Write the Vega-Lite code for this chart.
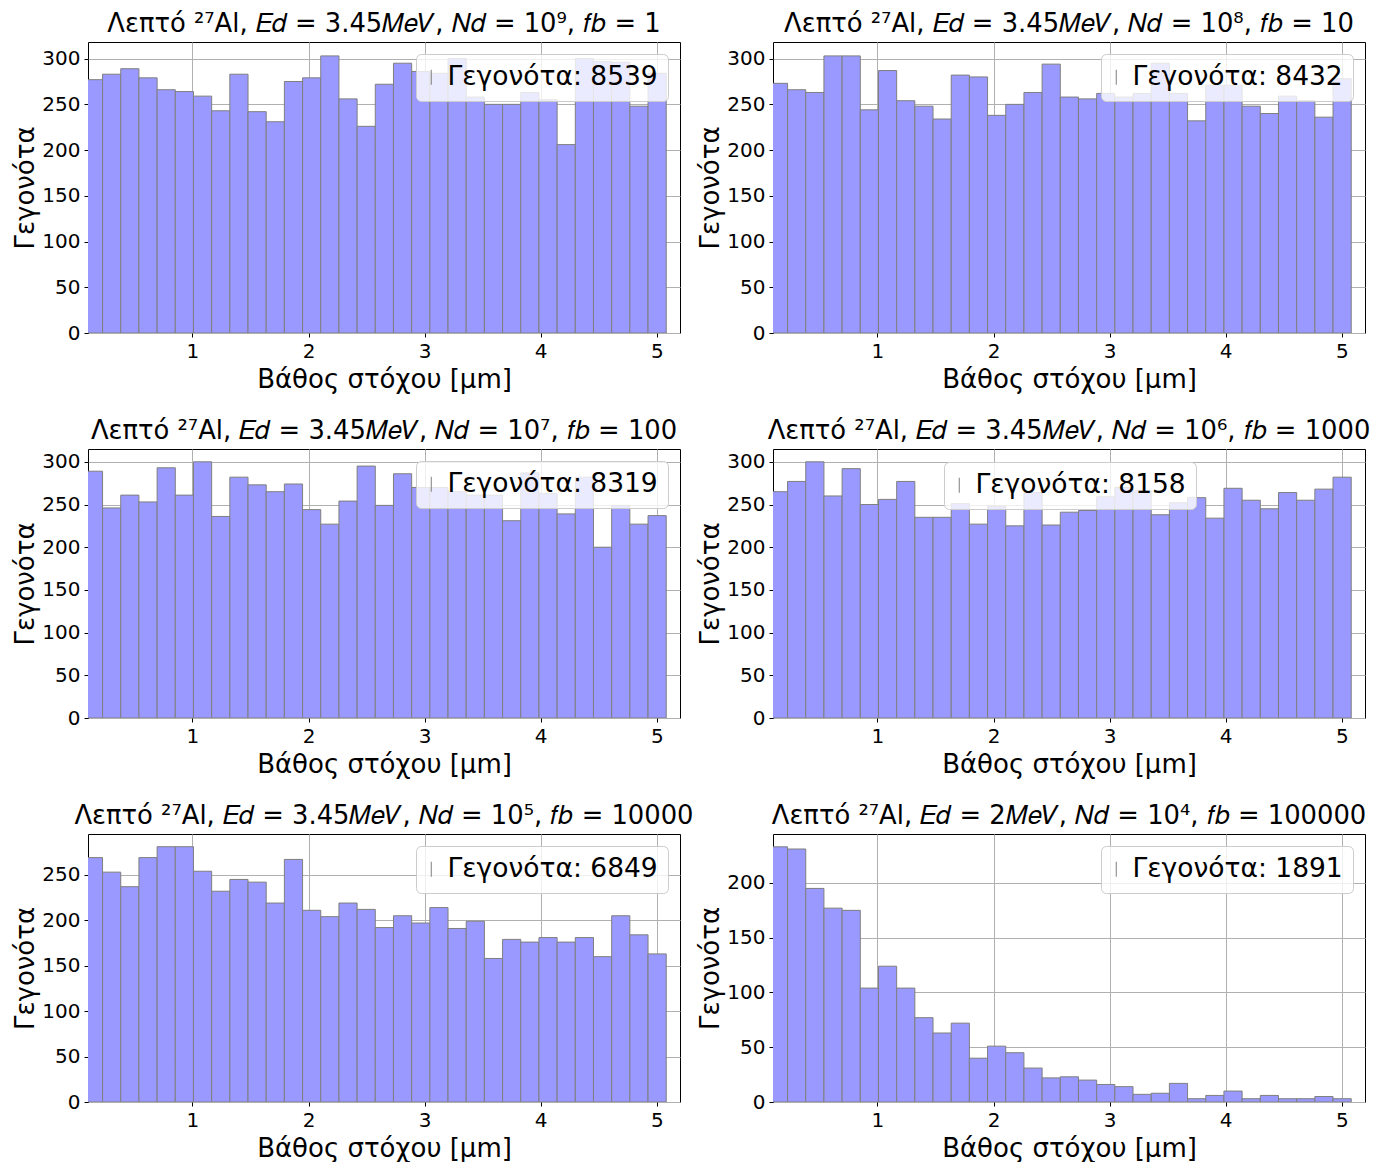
{
  "$schema": "https://vega.github.io/schema/vega-lite/v6.json",
  "padding": {"left": 12, "top": 10, "right": 5, "bottom": 5},
  "background": "white",
  "config": {
    "font": "DejaVu Sans",
    "view": {"stroke": "black", "strokeWidth": 1},
    "axis": {"domain": false, "grid": true, "gridColor": "#b0b0b0", "gridWidth": 1, "tickColor": "black", "tickSize": 4, "tickWidth": 1, "labelFont": "DejaVu Sans", "labelFontSize": 20, "labelColor": "black", "labelPadding": 4, "labelFlush": false, "titleFont": "DejaVu Sans", "titleFontSize": 26, "titleFontWeight": "normal", "titleColor": "black", "zindex": 1},
    "axisX": {"titlePadding": 5},
    "axisY": {"titlePadding": 3},
    "title": {"font": "DejaVu Sans", "fontSize": 25.8, "fontWeight": "normal", "color": "black", "offset": 4, "anchor": "middle"},
    "legend": {"padding": 10, "fillColor": "rgba(255,255,255,0.8)", "strokeColor": "#cccccc", "cornerRadius": 5, "labelFont": "DejaVu Sans", "labelFontSize": 26.5, "labelColor": "black", "labelLimit": 400, "symbolType": "M0,-1L0,1", "symbolSize": 225, "symbolStrokeWidth": 1, "symbolOffset": -8, "labelOffset": 3, "zindex": 2}
  },
  "data": {"values": [
    {"x0": 0.0688, "x1": 0.2254, "p1": 277, "p2": 273, "p3": 289, "p4": 265, "p5": 269, "p6": 233},
    {"x0": 0.2254, "x1": 0.3821, "p1": 283, "p2": 266, "p3": 246, "p4": 277, "p5": 253, "p6": 231},
    {"x0": 0.3821, "x1": 0.5387, "p1": 289, "p2": 263, "p3": 261, "p4": 300, "p5": 237, "p6": 195},
    {"x0": 0.5387, "x1": 0.6954, "p1": 279, "p2": 303, "p3": 253, "p4": 260, "p5": 269, "p6": 177},
    {"x0": 0.6954, "x1": 0.8520, "p1": 266, "p2": 303, "p3": 293, "p4": 292, "p5": 281, "p6": 175},
    {"x0": 0.8520, "x1": 1.0086, "p1": 264, "p2": 244, "p3": 261, "p4": 250, "p5": 281, "p6": 104},
    {"x0": 1.0086, "x1": 1.1653, "p1": 259, "p2": 287, "p3": 300, "p4": 256, "p5": 254, "p6": 124},
    {"x0": 1.1653, "x1": 1.3219, "p1": 243, "p2": 254, "p3": 236, "p4": 277, "p5": 232, "p6": 104},
    {"x0": 1.3219, "x1": 1.4786, "p1": 283, "p2": 248, "p3": 282, "p4": 235, "p5": 245, "p6": 77},
    {"x0": 1.4786, "x1": 1.6352, "p1": 242, "p2": 234, "p3": 273, "p4": 235, "p5": 242, "p6": 63},
    {"x0": 1.6352, "x1": 1.7918, "p1": 231, "p2": 282, "p3": 265, "p4": 251, "p5": 219, "p6": 72},
    {"x0": 1.7918, "x1": 1.9485, "p1": 275, "p2": 280, "p3": 274, "p4": 227, "p5": 267, "p6": 40},
    {"x0": 1.9485, "x1": 2.1051, "p1": 279, "p2": 238, "p3": 244, "p4": 248, "p5": 211, "p6": 51},
    {"x0": 2.1051, "x1": 2.2618, "p1": 303, "p2": 250, "p3": 227, "p4": 225, "p5": 204, "p6": 45},
    {"x0": 2.2618, "x1": 2.4184, "p1": 256, "p2": 263, "p3": 254, "p4": 264, "p5": 219, "p6": 31},
    {"x0": 2.4184, "x1": 2.5750, "p1": 226, "p2": 294, "p3": 295, "p4": 226, "p5": 212, "p6": 22},
    {"x0": 2.5750, "x1": 2.7317, "p1": 272, "p2": 258, "p3": 249, "p4": 241, "p5": 192, "p6": 23},
    {"x0": 2.7317, "x1": 2.8883, "p1": 295, "p2": 256, "p3": 286, "p4": 243, "p5": 205, "p6": 20},
    {"x0": 2.8883, "x1": 3.0450, "p1": 286, "p2": 262, "p3": 270, "p4": 259, "p5": 197, "p6": 16},
    {"x0": 3.0450, "x1": 3.2016, "p1": 284, "p2": 258, "p3": 270, "p4": 270, "p5": 214, "p6": 14},
    {"x0": 3.2016, "x1": 3.3582, "p1": 300, "p2": 262, "p3": 265, "p4": 266, "p5": 191, "p6": 7},
    {"x0": 3.3582, "x1": 3.5149, "p1": 258, "p2": 295, "p3": 261, "p4": 238, "p5": 199, "p6": 8},
    {"x0": 3.5149, "x1": 3.6715, "p1": 250, "p2": 262, "p3": 261, "p4": 252, "p5": 158, "p6": 17},
    {"x0": 3.6715, "x1": 3.8282, "p1": 250, "p2": 232, "p3": 231, "p4": 258, "p5": 179, "p6": 3},
    {"x0": 3.8282, "x1": 3.9848, "p1": 263, "p2": 271, "p3": 287, "p4": 234, "p5": 176, "p6": 6},
    {"x0": 3.9848, "x1": 4.1414, "p1": 255, "p2": 271, "p3": 263, "p4": 269, "p5": 181, "p6": 10},
    {"x0": 4.1414, "x1": 4.2981, "p1": 206, "p2": 248, "p3": 239, "p4": 255, "p5": 176, "p6": 3},
    {"x0": 4.2981, "x1": 4.4547, "p1": 300, "p2": 240, "p3": 282, "p4": 245, "p5": 181, "p6": 6},
    {"x0": 4.4547, "x1": 4.6114, "p1": 297, "p2": 259, "p3": 200, "p4": 264, "p5": 160, "p6": 3},
    {"x0": 4.6114, "x1": 4.7680, "p1": 296, "p2": 254, "p3": 249, "p4": 255, "p5": 205, "p6": 3},
    {"x0": 4.7680, "x1": 4.9246, "p1": 248, "p2": 236, "p3": 227, "p4": 268, "p5": 184, "p6": 5},
    {"x0": 4.9246, "x1": 5.0813, "p1": 284, "p2": 278, "p3": 237, "p4": 282, "p5": 163, "p6": 3}
  ]},
  "columns": 2,
  "spacing": {"row": 116, "column": 93},
  "bounds": "flush",
  "resolve": {"scale": {"color": "independent", "x": "independent", "y": "independent"}, "legend": {"color": "independent"}, "axis": {"x": "independent", "y": "independent"}},
  "concat": [
    {
      "width": 592, "height": 291,
      "title": "Λεπτό ²⁷Al, 𝐸𝑑 = 3.45𝑀𝑒𝑉, 𝑁𝑑 = 10⁹, 𝑓𝑏 = 1",
      "mark": {"type": "bar", "fill": "#9999ff", "stroke": "#7f7f7f", "strokeWidth": 1, "clip": true},
      "encoding": {
        "x": {"field": "x0", "type": "quantitative", "scale": {"domain": [0.1, 5.2], "nice": false, "zero": false}, "axis": {"values": [1, 2, 3, 4, 5], "format": "d", "title": "Βάθος στόχου [μm]"}},
        "x2": {"field": "x1"},
        "y": {"field": "p1", "type": "quantitative", "scale": {"domain": [0, 318.2], "nice": false}, "axis": {"values": [0, 50, 100, 150, 200, 250, 300], "title": "Γεγονότα"}},
        "y2": {"datum": 0},
        "color": {"datum": "Γεγονότα: 8539", "type": "nominal", "scale": {"range": ["#9999ff"]}, "legend": {"title": null, "orient": "top-right", "offset": 12, "encode": {"symbols": {"update": {"stroke": {"value": "#808080"}, "fill": {"value": "transparent"}}}}}}
      }
    },
    {
      "width": 592, "height": 291,
      "title": "Λεπτό ²⁷Al, 𝐸𝑑 = 3.45𝑀𝑒𝑉, 𝑁𝑑 = 10⁸, 𝑓𝑏 = 10",
      "mark": {"type": "bar", "fill": "#9999ff", "stroke": "#7f7f7f", "strokeWidth": 1, "clip": true},
      "encoding": {
        "x": {"field": "x0", "type": "quantitative", "scale": {"domain": [0.1, 5.2], "nice": false, "zero": false}, "axis": {"values": [1, 2, 3, 4, 5], "format": "d", "title": "Βάθος στόχου [μm]"}},
        "x2": {"field": "x1"},
        "y": {"field": "p2", "type": "quantitative", "scale": {"domain": [0, 318.2], "nice": false}, "axis": {"values": [0, 50, 100, 150, 200, 250, 300], "title": "Γεγονότα"}},
        "y2": {"datum": 0},
        "color": {"datum": "Γεγονότα: 8432", "type": "nominal", "scale": {"range": ["#9999ff"]}, "legend": {"title": null, "orient": "top-right", "offset": 12, "encode": {"symbols": {"update": {"stroke": {"value": "#808080"}, "fill": {"value": "transparent"}}}}}}
      }
    },
    {
      "width": 592, "height": 269,
      "title": "Λεπτό ²⁷Al, 𝐸𝑑 = 3.45𝑀𝑒𝑉, 𝑁𝑑 = 10⁷, 𝑓𝑏 = 100",
      "mark": {"type": "bar", "fill": "#9999ff", "stroke": "#7f7f7f", "strokeWidth": 1, "clip": true},
      "encoding": {
        "x": {"field": "x0", "type": "quantitative", "scale": {"domain": [0.1, 5.2], "nice": false, "zero": false}, "axis": {"values": [1, 2, 3, 4, 5], "format": "d", "title": "Βάθος στόχου [μm]"}},
        "x2": {"field": "x1"},
        "y": {"field": "p3", "type": "quantitative", "scale": {"domain": [0, 315], "nice": false}, "axis": {"values": [0, 50, 100, 150, 200, 250, 300], "title": "Γεγονότα"}},
        "y2": {"datum": 0},
        "color": {"datum": "Γεγονότα: 8319", "type": "nominal", "scale": {"range": ["#9999ff"]}, "legend": {"title": null, "orient": "top-right", "offset": 12, "encode": {"symbols": {"update": {"stroke": {"value": "#808080"}, "fill": {"value": "transparent"}}}}}}
      }
    },
    {
      "width": 592, "height": 269,
      "title": "Λεπτό ²⁷Al, 𝐸𝑑 = 3.45𝑀𝑒𝑉, 𝑁𝑑 = 10⁶, 𝑓𝑏 = 1000",
      "mark": {"type": "bar", "fill": "#9999ff", "stroke": "#7f7f7f", "strokeWidth": 1, "clip": true},
      "encoding": {
        "x": {"field": "x0", "type": "quantitative", "scale": {"domain": [0.1, 5.2], "nice": false, "zero": false}, "axis": {"values": [1, 2, 3, 4, 5], "format": "d", "title": "Βάθος στόχου [μm]"}},
        "x2": {"field": "x1"},
        "y": {"field": "p4", "type": "quantitative", "scale": {"domain": [0, 315], "nice": false}, "axis": {"values": [0, 50, 100, 150, 200, 250, 300], "title": "Γεγονότα"}},
        "y2": {"datum": 0},
        "color": {"datum": "Γεγονότα: 8158", "type": "nominal", "scale": {"range": ["#9999ff"]}, "legend": {"title": null, "orient": "none", "legendX": 171, "legendY": 13, "encode": {"symbols": {"update": {"stroke": {"value": "#808080"}, "fill": {"value": "transparent"}}}}}}
      }
    },
    {
      "width": 592, "height": 268,
      "title": "Λεπτό ²⁷Al, 𝐸𝑑 = 3.45𝑀𝑒𝑉, 𝑁𝑑 = 10⁵, 𝑓𝑏 = 10000",
      "mark": {"type": "bar", "fill": "#9999ff", "stroke": "#7f7f7f", "strokeWidth": 1, "clip": true},
      "encoding": {
        "x": {"field": "x0", "type": "quantitative", "scale": {"domain": [0.1, 5.2], "nice": false, "zero": false}, "axis": {"values": [1, 2, 3, 4, 5], "format": "d", "title": "Βάθος στόχου [μm]"}},
        "x2": {"field": "x1"},
        "y": {"field": "p5", "type": "quantitative", "scale": {"domain": [0, 295], "nice": false}, "axis": {"values": [0, 50, 100, 150, 200, 250], "title": "Γεγονότα"}},
        "y2": {"datum": 0},
        "color": {"datum": "Γεγονότα: 6849", "type": "nominal", "scale": {"range": ["#9999ff"]}, "legend": {"title": null, "orient": "top-right", "offset": 12, "encode": {"symbols": {"update": {"stroke": {"value": "#808080"}, "fill": {"value": "transparent"}}}}}}
      }
    },
    {
      "width": 592, "height": 268,
      "title": "Λεπτό ²⁷Al, 𝐸𝑑 = 2𝑀𝑒𝑉, 𝑁𝑑 = 10⁴, 𝑓𝑏 = 100000",
      "mark": {"type": "bar", "fill": "#9999ff", "stroke": "#7f7f7f", "strokeWidth": 1, "clip": true},
      "encoding": {
        "x": {"field": "x0", "type": "quantitative", "scale": {"domain": [0.1, 5.2], "nice": false, "zero": false}, "axis": {"values": [1, 2, 3, 4, 5], "format": "d", "title": "Βάθος στόχου [μm]"}},
        "x2": {"field": "x1"},
        "y": {"field": "p6", "type": "quantitative", "scale": {"domain": [0, 244.7], "nice": false}, "axis": {"values": [0, 50, 100, 150, 200], "title": "Γεγονότα"}},
        "y2": {"datum": 0},
        "color": {"datum": "Γεγονότα: 1891", "type": "nominal", "scale": {"range": ["#9999ff"]}, "legend": {"title": null, "orient": "top-right", "offset": 12, "encode": {"symbols": {"update": {"stroke": {"value": "#808080"}, "fill": {"value": "transparent"}}}}}}
      }
    }
  ]
}
